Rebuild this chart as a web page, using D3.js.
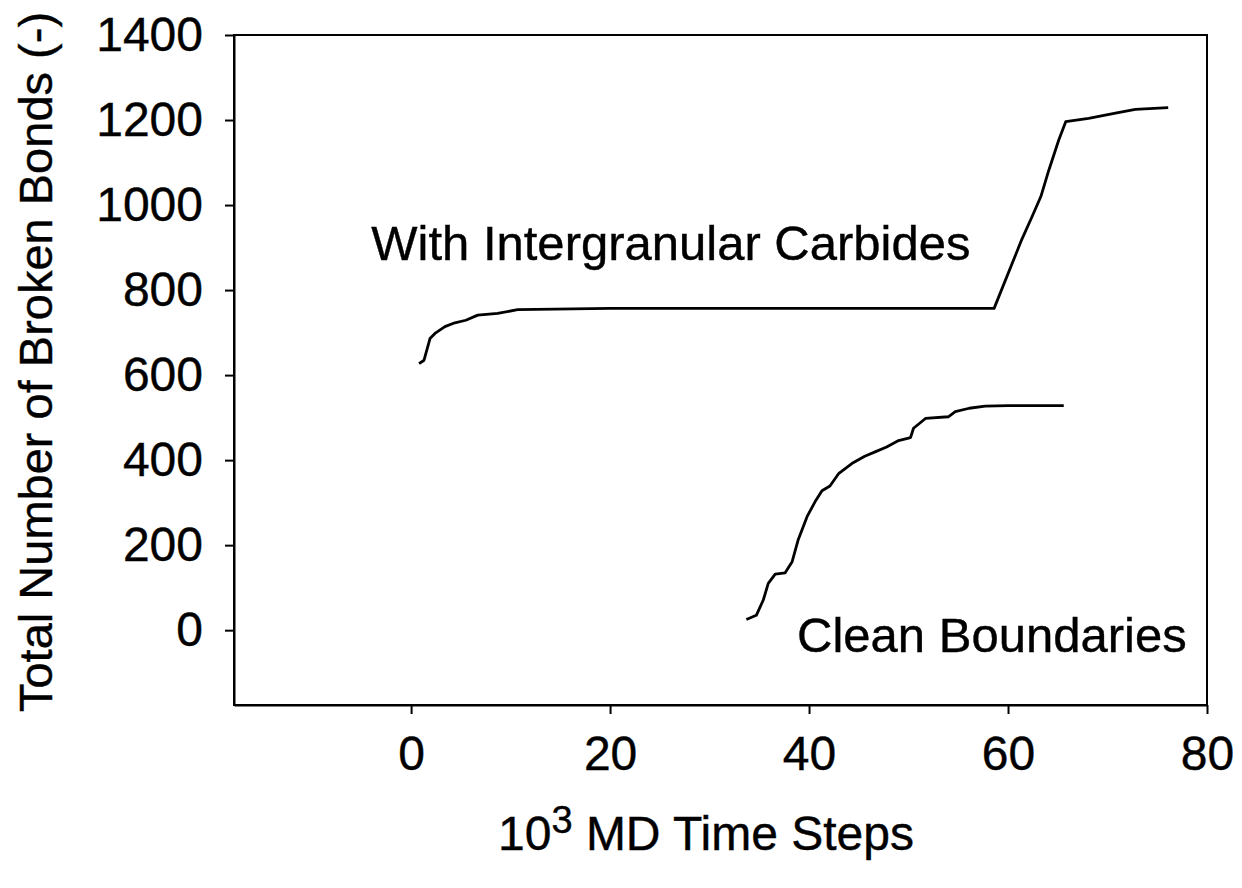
<!DOCTYPE html>
<meta charset="utf-8">
<style>
  body { margin: 0; background: #fff; }
  text { font-family: "Liberation Sans", Arial, sans-serif; fill: #000; stroke: #000; stroke-width: 0.4px; }
  .axis path, .axis line { stroke: #000; stroke-width: 2; }
  .axis text { font-size: 48px; }
  .curve { fill: none; stroke: #000; stroke-width: 2.8; stroke-linejoin: round; }
</style>
<body>
<script src="https://d3js.org/d3.v7.min.js"></script>
<script>

  // data (x in 10^3 MD time steps)
  var carbX = [0.8, 1.3, 1.9, 2.4, 3.4, 4.4, 5.5, 6.7, 8.7, 10.7, 20, 40, 58.6, 61.4, 62.4, 63.3, 64.1, 65.1, 65.8, 68.1, 70.8, 72.8, 76.1];
  var carbY = [627, 635, 686, 698, 714, 723, 729, 741, 745, 754, 757, 757, 757, 920, 972, 1020, 1082, 1153, 1196, 1204, 1216, 1225, 1229];

  var cleanX = [33.7, 34.7, 35.4, 35.9, 36.6, 37.6, 38.3, 38.9, 39.8, 40.6, 41.3, 42.1, 43.0, 44.3, 45.6, 46.7, 47.8, 49.0, 50.2, 50.5, 51.7, 54.0, 54.7, 56.1, 57.7, 60, 65.6];
  var cleanY = [25, 35, 71, 110, 132, 135, 161, 212, 267, 302, 328, 339, 369, 392, 409, 420, 431, 446, 453, 475, 498, 502, 514, 522, 527, 528, 528];

  var xTicks = [0, 20, 40, 60, 80];
  var yTicks = [0, 200, 400, 600, 800, 1000, 1200, 1400];

  var W = 1242, H = 888;
  var margin = { top: 35, right: 35, bottom: 183, left: 234 };

  var svg = d3.select("body").append("svg")
    .attr("width", W)
    .attr("height", H);

  var x = d3.scaleLinear().domain([-17.8, 80]).range([margin.left, W - margin.right]);
  var y = d3.scaleLinear().domain([-176, 1400]).range([H - margin.bottom, margin.top]);

  // frame
  svg.append("rect")
    .attr("x", x.range()[0])
    .attr("y", y.range()[1])
    .attr("width", x.range()[1] - x.range()[0])
    .attr("height", y.range()[0] - y.range()[1])
    .attr("fill", "none")
    .attr("stroke", "#000")
    .attr("stroke-width", 2);

  // axes
  svg.append("g")
    .attr("class", "axis")
    .attr("transform", "translate(0," + y.range()[0] + ")")
    .call(d3.axisBottom(x).tickValues(xTicks).tickFormat(d3.format("d"))
      .tickSize(9).tickPadding(22).tickSizeOuter(0));

  svg.append("g")
    .attr("class", "axis")
    .attr("transform", "translate(" + x.range()[0] + ",0)")
    .call(d3.axisLeft(y).tickValues(yTicks).tickFormat(d3.format("d"))
      .tickSize(9).tickPadding(22).tickSizeOuter(0));

  // lines
  var line = d3.line()
    .x(function (d) { return x(d[0]); })
    .y(function (d) { return y(d[1]); });

  svg.append("path")
    .attr("class", "curve")
    .attr("d", line(d3.zip(carbX, carbY)));

  svg.append("path")
    .attr("class", "curve")
    .attr("d", line(d3.zip(cleanX, cleanY)));

  // curve labels
  svg.append("text")
    .attr("x", x(-4))
    .attr("y", y(870))
    .style("font-size", "49px")
    .text("With Intergranular Carbides");

  svg.append("text")
    .attr("x", x(38.8))
    .attr("y", y(-52))
    .style("font-size", "49px")
    .text("Clean Boundaries");

  // axis titles
  var xt = svg.append("text")
    .attr("x", 706)
    .attr("y", 850)
    .attr("text-anchor", "middle")
    .style("font-size", "48px");
  xt.append("tspan").text("10");
  xt.append("tspan").attr("dy", -17).style("font-size", "38px").text("3");
  xt.append("tspan").attr("dy", 17).text(" MD Time Steps");

  svg.append("text")
    .attr("transform", "translate(52," + 362 + ") rotate(-90)")
    .attr("text-anchor", "middle")
    .style("font-size", "47px")
    .text("Total Number of Broken Bonds (-)");

</script>
</body>
